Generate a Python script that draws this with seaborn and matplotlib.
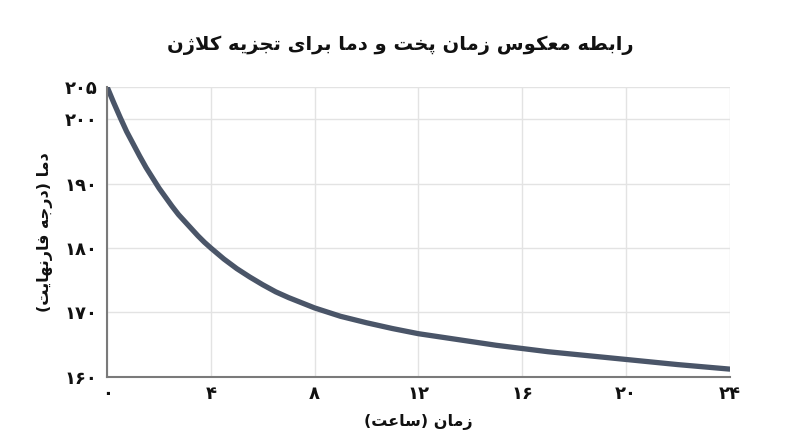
import unicodedata
import matplotlib
matplotlib.use("Agg")
import matplotlib.pyplot as plt
import seaborn as sns
import pandas as pd

# ---------------- data ----------------
hours = [0, 0.25, 0.5, 0.75, 1, 1.25, 1.5, 1.75, 2, 2.25, 2.5, 2.75, 3, 3.25,
         3.5, 3.75, 4, 4.5, 5, 5.5, 6, 6.5, 7, 7.5, 8, 9, 10, 11, 12, 13, 14,
         15, 16, 17, 18, 19, 20, 21, 22, 23, 24]
temps = [205.0, 202.6, 200.3, 198.1, 196.2, 194.3, 192.5, 190.9, 189.3, 187.9,
         186.5, 185.2, 184.1, 183.0, 181.9, 180.9, 180.0, 178.3, 176.8, 175.5,
         174.3, 173.2, 172.3, 171.5, 170.7, 169.4, 168.4, 167.5, 166.7, 166.1,
         165.5, 164.9, 164.4, 163.9, 163.5, 163.1, 162.7, 162.3, 161.9, 161.55,
         161.2]
x_ticks = [0, 4, 8, 12, 16, 20, 24]
x_tick_labels = ["۰", "۴", "۸", "۱۲", "۱۶", "۲۰", "۲۴"]
y_ticks = [160, 170, 180, 190, 200, 205]
y_tick_labels = ["۱۶۰", "۱۷۰", "۱۸۰", "۱۹۰", "۲۰۰", "۲۰۵"]
title_text = "رابطه معکوس زمان پخت و دما برای تجزیه کلاژن"
x_label_text = "زمان (ساعت)"
y_label_text = "دما (درجه فارنهایت)"


# ------------- Arabic-script shaping (matplotlib has no RTL shaping) -------------
def _form(c, form):
    try:
        return unicodedata.lookup(unicodedata.name(c) + " " + form)
    except Exception:
        return None


def _joins_left(c):
    return bool(_form(c, "INITIAL FORM") or _form(c, "MEDIAL FORM"))


def _joins_right(c):
    return bool(_form(c, "FINAL FORM"))


def shape_rtl(text):
    chars = list(text)
    out = []
    i = 0
    n = len(chars)
    while i < n:
        c = chars[i]
        prev = chars[i - 1] if i > 0 else None
        prev_join = prev is not None and _joins_left(prev) and _joins_right(c)
        if c == "ل" and i + 1 < n and chars[i + 1] == "ا":
            name = "ARABIC LIGATURE LAM WITH ALEF " + ("FINAL FORM" if prev_join else "ISOLATED FORM")
            out.append(unicodedata.lookup(name))
            i += 2
            continue
        nxt = chars[i + 1] if i + 1 < n else None
        next_join = nxt is not None and _joins_left(c) and _joins_right(nxt)
        if prev_join and next_join:
            g = _form(c, "MEDIAL FORM")
        elif prev_join:
            g = _form(c, "FINAL FORM")
        elif next_join:
            g = _form(c, "INITIAL FORM")
        else:
            g = _form(c, "ISOLATED FORM")
        out.append(g or c)
        i += 1
    mirror = {"(": ")", ")": "("}
    return "".join(mirror.get(ch, ch) for ch in reversed(out))


# ---------------- plot ----------------
sns.set_theme(style="whitegrid")
plt.rcParams["font.family"] = ["DejaVu Sans"]

fig = plt.figure(figsize=(8, 4.47), dpi=100)
ax = fig.add_axes([0.134, 0.157, 0.778, 0.648])

df = pd.DataFrame({"hours": hours, "temp": temps})
sns.lineplot(data=df, x="hours", y="temp", ax=ax, color="#4a5568",
             linewidth=3.8, solid_capstyle="round", solid_joinstyle="round")

ax.set_xlim(0, 24)
ax.set_ylim(160, 205)
ax.set_xticks(x_ticks)
ax.set_xticklabels(x_tick_labels, fontsize=13, fontweight="bold", color="#111111")
ax.set_yticks(y_ticks)
ax.set_yticklabels(y_tick_labels, fontsize=13, fontweight="bold", color="#111111")
ax.tick_params(axis="both", length=0)
ax.tick_params(axis="x", pad=6)
ax.tick_params(axis="y", pad=7)

ax.grid(True, color="#e3e3e3", linewidth=1.0)
for side in ["top", "right"]:
    ax.spines[side].set_visible(False)
for side in ["left", "bottom"]:
    ax.spines[side].set_visible(True)
    ax.spines[side].set_color("#7a7a7a")
    ax.spines[side].set_linewidth(1.5)

ax.set_xlabel(shape_rtl(x_label_text), fontsize=11.5, fontweight="bold",
              color="#111111", labelpad=8)
ax.set_ylabel(shape_rtl(y_label_text), fontsize=11.5, fontweight="bold",
              color="#111111", labelpad=8)
fig.suptitle(shape_rtl(title_text), x=0.5, y=0.92, fontsize=14,
             fontweight="bold", color="#111111")

fig.savefig("out.png", dpi=100)
